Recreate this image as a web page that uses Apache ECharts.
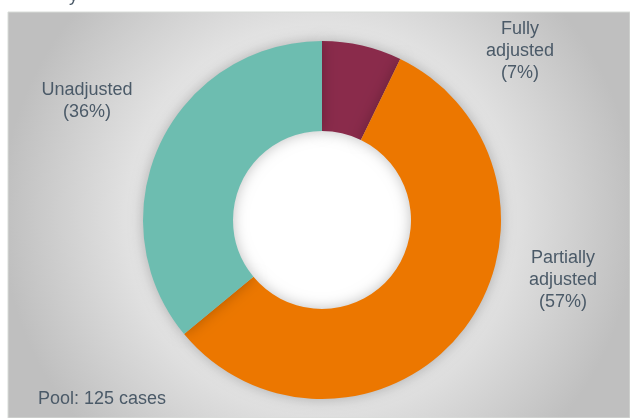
<!DOCTYPE html>
<html>
<head>
<meta charset="utf-8">
<script src="https://cdn.jsdelivr.net/npm/echarts@6/dist/echarts.min.js"></script>
<style>html,body{margin:0;padding:0;background:#fff;}#c{width:630px;height:418px;}</style>
</head>
<body>
<div id="c"></div>
<script>
var categories = ["Fully adjusted", "Partially adjusted", "Unadjusted"];
var caseCounts = [9, 71, 45];
var sliceColors = ["#8a2b4b", "#ec7700", "#6dbdb0"];
var labelSpots = [[520, 51], [563, 280], [87, 101]];
var footnote = "Pool: 125 cases";

var total = caseCounts.reduce(function (a, b) { return a + b; }, 0);
var chart = echarts.init(document.getElementById('c'), null, {renderer: 'canvas'});
chart.setOption({
  animation: false,
  backgroundColor: '#ffffff',
  graphic: [
    {type: 'rect', z: -10, shape: {x: 8, y: 12, width: 622, height: 406},
     style: {fill: new echarts.graphic.RadialGradient(0.5, 0.5, 0.78, [
       {offset: 0, color: '#efefef'}, {offset: 0.55, color: '#e6e6e6'}, {offset: 1, color: '#bfbfbf'}]),
       stroke: '#d8dcd8', lineWidth: 1}},
    {type: 'circle', z: -9, shape: {cx: 322, cy: 220, r: 92}, style: {fill: '#ffffff'}},
    {type: 'text', z: 10, x: 38, y: 399,
     style: {text: footnote, fill: '#4b5a68', font: '18px Arial, "Liberation Sans", sans-serif', verticalAlign: 'middle'}},
    {type: 'text', z: 10, x: 69, y: 5,
     style: {text: 'y', fill: '#4b5a68', font: '18px Arial, "Liberation Sans", sans-serif', verticalAlign: 'bottom'}}
  ],
  series: [{
    type: 'pie',
    center: [322, 220],
    radius: [89, 179],
    startAngle: 90,
    clockwise: true,
    avoidLabelOverlap: false,
    data: categories.map(function (n, i) {
      return {name: n, value: caseCounts[i], itemStyle: {color: sliceColors[i]}};
    }),
    itemStyle: {shadowBlur: 14, shadowColor: 'rgba(0,0,0,0.25)', borderWidth: 0},
    label: {
      show: true,
      position: 'outside',
      color: '#4b5a68',
      fontFamily: 'Arial, "Liberation Sans", sans-serif',
      fontSize: 18,
      lineHeight: 22,
      align: 'center',
      formatter: function (p) {
        return p.name.replace(' ', '\n') + '\n(' + Math.round(p.value / total * 100) + '%)';
      }
    },
    labelLine: {show: false},
    labelLayout: function (p) {
      var s = labelSpots[p.dataIndex];
      return {x: s[0], y: s[1], align: 'center', verticalAlign: 'middle'};
    },
    emphasis: {disabled: true}
  }]
});
</script>
</body>
</html>
